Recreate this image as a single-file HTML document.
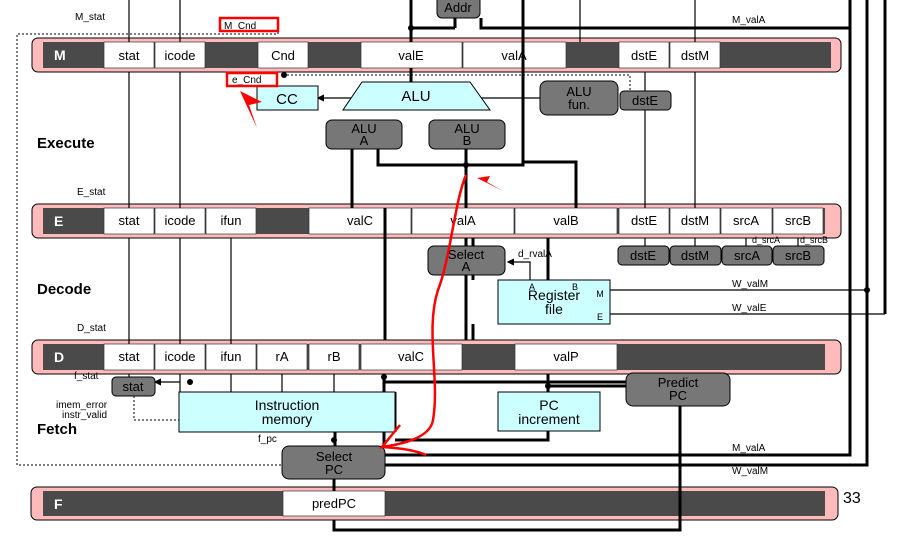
<!DOCTYPE html>
<html><head><meta charset="utf-8"><style>
body{margin:0;background:#fff}
text{font-family:"Liberation Sans",sans-serif}
</style></head><body>
<svg width="911" height="545" viewBox="0 0 911 545" xmlns="http://www.w3.org/2000/svg">
<defs>
<marker id="a" markerWidth="6" markerHeight="6" refX="5" refY="3" orient="auto"><path d="M0,0 L6,3 L0,6z" fill="#000"/></marker>
</defs>
<g font-size="13" text-anchor="middle">
<path d="M278,32 V34 H17 V465 H282" fill="none" stroke="#000" stroke-dasharray="2,2"/>
<g>
<rect x="32" y="38" width="809" height="34" rx="6" fill="#fbb" stroke="#000"/>
<rect x="43" y="42" width="788" height="26" fill="#4a4a4a"/>
<rect x="32" y="204" width="809" height="34" rx="6" fill="#fbb" stroke="#000"/>
<rect x="43" y="208" width="782" height="26" fill="#4a4a4a"/>
<rect x="32" y="340" width="809" height="34" rx="6" fill="#fbb" stroke="#000"/>
<rect x="43" y="344" width="782" height="26" fill="#4a4a4a"/>
<rect x="31" y="487" width="807" height="33" rx="6" fill="#fbb" stroke="#000"/>
<rect x="43" y="491" width="782" height="25" fill="#4a4a4a"/>
</g>
<g fill="#fff" stroke="#333" stroke-width="0.7">
<rect x="104" y="42" width="50" height="26"/><rect x="155" y="42" width="50" height="26"/><rect x="258" y="42" width="50" height="26"/><rect x="361" y="42" width="101" height="26"/><rect x="463" y="42" width="103" height="26"/><rect x="619" y="42" width="50" height="26"/><rect x="670" y="42" width="50" height="26"/>
<rect x="104" y="208" width="50" height="26"/><rect x="155" y="208" width="50" height="26"/><rect x="206" y="208" width="50" height="26"/><rect x="309" y="208" width="102" height="26"/><rect x="412" y="208" width="102" height="26"/><rect x="515" y="208" width="102" height="26"/><rect x="619" y="208" width="50" height="26"/><rect x="670" y="208" width="50" height="26"/><rect x="721" y="208" width="51" height="26"/><rect x="773" y="208" width="50" height="26"/>
<rect x="104" y="344" width="50" height="26"/><rect x="155" y="344" width="50" height="26"/><rect x="206" y="344" width="50" height="26"/><rect x="257" y="344" width="50" height="26"/><rect x="309" y="344" width="50" height="26"/><rect x="361" y="344" width="101" height="26"/><rect x="515" y="344" width="102" height="26"/>
<rect x="283" y="491" width="102" height="25"/>
</g>
<g font-weight="bold" fill="#fff" font-size="14" text-anchor="start">
<text x="54" y="60">M</text><text x="54" y="226">E</text><text x="54" y="362">D</text><text x="54" y="509">F</text>
</g>
<g>
<text x="129" y="60">stat</text><text x="180" y="60">icode</text><text x="283" y="60">Cnd</text><text x="411" y="60">valE</text><text x="514" y="60">valA</text><text x="644" y="60">dstE</text><text x="695" y="60">dstM</text>
<text x="129" y="225">stat</text><text x="180" y="225">icode</text><text x="231" y="225">ifun</text><text x="360" y="225">valC</text><text x="463" y="225">valA</text><text x="566" y="225">valB</text><text x="644" y="225">dstE</text><text x="695" y="225">dstM</text><text x="746" y="225">srcA</text><text x="798" y="225">srcB</text>
<text x="129" y="361">stat</text><text x="180" y="361">icode</text><text x="231" y="361">ifun</text><text x="282" y="361">rA</text><text x="334" y="361">rB</text><text x="411" y="361">valC</text><text x="566" y="361">valP</text>
<text x="334" y="508">predPC</text>
</g>
<g stroke="#000" fill="none" stroke-width="1.2">
<path d="M129,0V42 M180,0V42 M129,72V208 M180,72V208 M129,238V344 M180,238V344 M231,238V344 M129,374V377 M180,374V392 M231,374V392 M282,374V392 M334,374V392"/>
<path d="M580,0V42 M695,0V42 M645,91V72 M695,72V208 M645,208V110 M645,238V246 M695,238V246 M746,238V246 M798,238V246"/>
<path d="M540,98H318" marker-end="url(#a)"/>
<path d="M610,290H867 M610,314H885" />
<path d="M530,280V262H508" marker-end="url(#a)"/>
<path d="M180,382H155" marker-end="url(#a)"/>
</g>
<path d="M283,75H630V91" fill="none" stroke="#000" stroke-dasharray="2,2"/>
<path d="M134,388V420H179" fill="none" stroke="#000" stroke-dasharray="2,2"/>
<g stroke="#000" stroke-width="3" fill="none">
<path d="M411,0V42 M411,68V82 M455,18V28 M411,28H455 M481,18V28H850V455H385 M867,0V465H385 M885,0V314 M850,0V28"/>
<path d="M352,208V149 M378,149V165H466V149 M466,208V165 M466,165H523V0 M576,208V162H523 M523,162V68"/>
<path d="M385,340V208 M473,340V324 M473,280V238 M466,246V238 M466,275V340 M548,280V238"/>
<path d="M384,374V392 M384,432V446 M335,432V446 M385,382H626 M548,374V392 M548,431V440H395 M334,479V491 M680,406V530H334V520 M548,386H626"/>
<path d="M395,392V432"/>
</g>
<circle cx="411" cy="28" r="3"/><circle cx="284" cy="75" r="3"/><circle cx="466" cy="165" r="3"/><circle cx="867" cy="290" r="3"/><circle cx="190" cy="382" r="3"/><circle cx="384" cy="377" r="3"/><circle cx="548" cy="386" r="3"/><circle cx="334" cy="440" r="3"/>
<g stroke="#000">
<rect x="437" y="-6" width="43" height="24" rx="5" fill="#777"/>
<rect x="257" y="86" width="61" height="24" fill="#cff"/>
<polygon points="362,82 470,82 490,110 343,110" fill="#cff"/>
<rect x="540" y="81" width="78" height="34" rx="7" fill="#777"/>
<rect x="620" y="91" width="51" height="19" rx="4" fill="#777"/>
<rect x="326" y="120" width="76" height="29" rx="6" fill="#777"/>
<rect x="429" y="120" width="76" height="29" rx="6" fill="#777"/>
<rect x="428" y="246" width="77" height="29" rx="6" fill="#777"/>
<rect x="498" y="280" width="112" height="44" fill="#cff"/>
<rect x="618" y="246" width="51" height="19" rx="4" fill="#777"/><rect x="670" y="246" width="51" height="19" rx="4" fill="#777"/><rect x="722" y="246" width="50" height="19" rx="4" fill="#777"/><rect x="773" y="246" width="51" height="19" rx="4" fill="#777"/>
<rect x="112" y="377" width="43" height="19" rx="4" fill="#777"/>
<rect x="179" y="392" width="216" height="40" fill="#cff"/>
<rect x="498" y="392" width="102" height="39" fill="#cff"/>
<rect x="626" y="373" width="104" height="33" rx="7" fill="#777"/>
<rect x="282" y="446" width="103" height="33" rx="7" fill="#777"/>
</g>
<g font-size="13">
<text x="458" y="12">Addr</text>
<text x="287" y="104" font-size="15">CC</text>
<text x="416" y="101" font-size="15">ALU</text>
<text x="579" y="96">ALU</text><text x="579" y="109">fun.</text>
<text x="645" y="105">dstE</text>
<text x="364" y="133">ALU</text><text x="364" y="145">A</text>
<text x="467" y="133">ALU</text><text x="467" y="145">B</text>
<text x="466" y="259">Select</text><text x="466" y="271">A</text>
<text x="554" y="300" font-size="14">Register</text><text x="554" y="314" font-size="14">file</text>
<text x="532" y="290" font-size="9">A</text><text x="575" y="290" font-size="9">B</text><text x="600" y="297" font-size="9">M</text><text x="600" y="320" font-size="9">E</text>
<text x="643" y="260">dstE</text><text x="695" y="260">dstM</text><text x="747" y="260">srcA</text><text x="798" y="260">srcB</text>
<text x="133" y="391">stat</text>
<text x="287" y="410" font-size="14">Instruction</text><text x="287" y="424" font-size="14">memory</text>
<text x="549" y="410" font-size="14">PC</text><text x="549" y="424" font-size="14">increment</text>
<text x="678" y="387">Predict</text><text x="678" y="400">PC</text>
<text x="334" y="461">Select</text><text x="334" y="474">PC</text>
</g>
<g font-size="10" text-anchor="start">
<text x="75" y="20">M_stat</text><text x="77" y="195">E_stat</text><text x="77" y="331">D_stat</text><text x="74" y="379">f_stat</text>
<text x="56" y="408">imem_error</text><text x="62" y="418">instr_valid</text><text x="258" y="442">f_pc</text>
<text x="732" y="23">M_valA</text><text x="518" y="257">d_rvalA</text><text x="732" y="287">W_valM</text><text x="732" y="311">W_valE</text>
<text x="732" y="451">M_valA</text><text x="732" y="474">W_valM</text>
<text x="752" y="243" font-size="9">d_srcA</text><text x="800" y="243" font-size="9">d_srcB</text>
<text x="224" y="29">M_Cnd</text><text x="232" y="83">e_Cnd</text>
</g>
<g font-weight="bold" font-size="15" text-anchor="start">
<text x="37" y="148">Execute</text><text x="37" y="294">Decode</text><text x="37" y="434">Fetch</text>
</g>
<text x="843" y="503" font-family="Liberation Serif" font-size="16" text-anchor="start">33</text>
<g stroke="#f00" stroke-width="2.5" fill="none">
<rect x="220" y="18" width="58" height="13"/>
<rect x="227" y="73" width="50" height="13"/>
<path d="M466,175 C455,200 450,260 438,290 C425,330 440,380 433,420 C430,440 395,445 382,447 L400,425 M382,447 C400,448 415,450 426,455"/>
</g>
<polygon points="240,91 257,128 249,105 262,102" fill="#f00"/>
<polygon points="477,178 503,191 487,182 490,176" fill="#f00"/>
</g>
</svg>
</body></html>
